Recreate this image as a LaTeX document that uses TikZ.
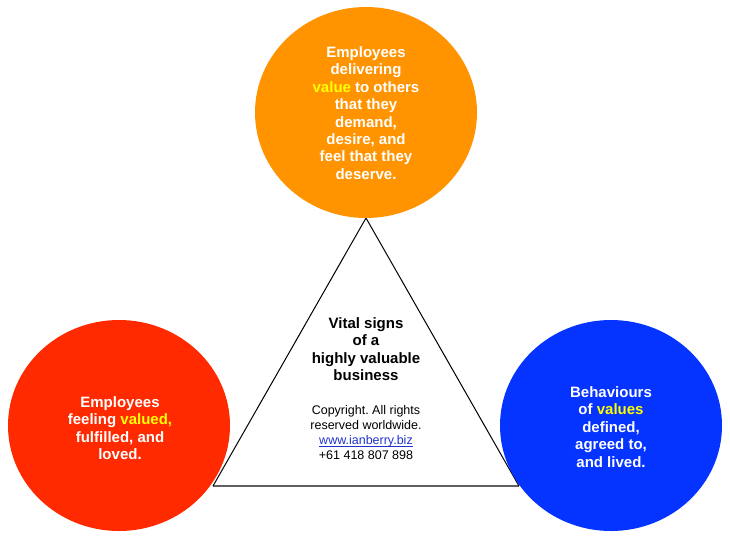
\documentclass[tikz,border=0pt]{standalone}
\usepackage{fontspec}
\setmainfont{Liberation Sans}
\usetikzlibrary{shapes.geometric}
\frenchspacing
\definecolor{orangeC}{HTML}{FF9400}
\definecolor{redC}{HTML}{FF2A00}
\definecolor{blueC}{HTML}{0533FF}
\definecolor{yellowC}{HTML}{FFFF00}
\definecolor{linkC}{HTML}{2233CC}
\definecolor{baseC}{HTML}{606060}
\tikzset{
  bubble/.style={ellipse, minimum width=222pt, minimum height=211pt, inner sep=0pt, draw=none},
  bubbletext/.style={align=center, text=white, font=\fontsize{15}{17.4}\selectfont\bfseries, inner sep=0pt},
  titletext/.style={align=center, text=black, font=\fontsize{15}{17.4}\selectfont\bfseries, inner sep=0pt},
  smalltext/.style={align=center, text=black, font=\fontsize{12.5}{15}\selectfont, inner sep=0pt},
  side/.style={draw=black, line width=1pt},
  baseline/.style={draw=baseC, line width=2pt}
}
\newcommand{\hl}[1]{\textcolor{yellowC}{#1}}
\newcommand{\ulink}[1]{\setbox0\hbox{#1}\rlap{\rule[-1.8pt]{\wd0}{0.7pt}}\box0}
\begin{document}
\begin{tikzpicture}[x=1pt,y=-1pt]
\useasboundingbox (0,0) rectangle (730,539);
% triangle
\coordinate (apex) at (366,218);
\coordinate (bl) at (213,486);
\coordinate (br) at (519,486);
\draw[baseline] (bl) -- (br);
\draw[side] (bl) -- (apex) -- (br);
% bubbles
\node[bubble, fill=orangeC] (top) at (366,112.5) {};
\node[bubble, fill=redC] (left) at (119,425.5) {};
\node[bubble, fill=blueC] (right) at (611,425.5) {};
% texts
\node[bubbletext] (toptext) at (366,113) {Employees\\delivering\\\hl{value} to others\\that they\\demand,\\desire, and\\feel that they\\deserve.};
\node[bubbletext] (lefttext) at (120,428) {Employees\\feeling \hl{valued,}\\fulfilled, and\\loved.};
\node[bubbletext] (righttext) at (611,427) {Behaviours\\of \hl{values}\\defined,\\agreed to,\\and lived.};
\node[titletext] (title) at (366,349) {Vital signs\\of a\\highly valuable\\business};
\node[smalltext] (copy) at (366,433) {Copyright. All rights\\reserved worldwide.\\\textcolor{linkC}{\ulink{www.ianberry.biz}}\\+61 418 807 898};
\end{tikzpicture}
\end{document}
